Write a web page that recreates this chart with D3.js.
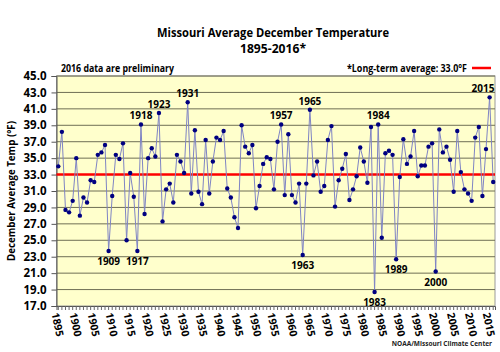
<!DOCTYPE html>
<html>
<head>
<meta charset="utf-8">
<script src="https://cdn.jsdelivr.net/npm/d3@7"></script>
<style>
  body { margin: 0; background: #fff; }
  svg text { font-family: "Open Sans", "DejaVu Sans", sans-serif; }
</style>
</head>
<body>
<svg id="chart" width="500" height="352"></svg>
<script>
const startYear = 1895;
const temps = [
  34.0, 38.2, 28.7, 28.4, 29.8, 35.0, 28.0, 30.2, 29.6, 32.3,
  32.1, 35.4, 35.7, 36.6, 23.7, 30.4, 35.4, 34.9, 36.8, 25.0,
  33.2, 30.3, 23.7, 39.1, 28.2, 35.0, 36.2, 35.2, 40.5, 27.3,
  31.2, 31.9, 29.6, 35.4, 34.6, 33.2, 41.8, 30.7, 38.4, 30.9,
  29.4, 37.2, 30.7, 34.6, 37.5, 37.2, 38.3, 31.3, 30.2, 27.8,
  26.5, 39.0, 36.4, 35.6, 36.6, 28.9, 31.6, 34.3, 35.1, 34.9,
  31.2, 37.0, 39.1, 30.5, 37.9, 30.5, 29.6, 31.9, 23.2, 31.9,
  40.9, 32.9, 34.6, 30.9, 31.6, 37.2, 38.9, 29.1, 32.3, 33.7,
  35.5, 29.9, 31.2, 32.8, 36.3, 34.6, 32.0, 38.8, 18.7, 39.1,
  25.3, 35.6, 35.9, 35.4, 22.7, 32.7, 37.3, 34.3, 35.2, 38.3,
  32.8, 34.1, 34.1, 36.4, 36.8, 21.2, 38.5, 35.7, 36.4, 34.8,
  30.9, 38.3, 33.3, 31.2, 30.7, 29.8, 37.5, 38.8, 30.4, 36.1,
  42.4, 32.1
];
const years = temps.map((_, i) => startYear + i);
const longTermAvg = 33.0;
const yTicks = [17, 19, 21, 23, 25, 27, 29, 31, 33, 35, 37, 39, 41, 43, 45];
const xLabelYears = d3.range(1895, 2016, 5);
const labeledHigh = [1918, 1923, 1931, 1957, 1965, 1984, 2015];
const labeledLow = [1909, 1917, 1963, 1983, 1989, 2000];

const svg = d3.select('#chart');
const plot = { left: 56.5, right: 495, top: 76, bottom: 306 };

const x = d3.scaleBand().domain(years).range([plot.left, plot.right]);
const cx = yr => x(yr) + x.bandwidth() / 2;
const y = d3.scaleLinear().domain([17, 45]).range([plot.bottom, plot.top]);

// Plot background
svg.append('rect')
  .attr('x', plot.left).attr('y', plot.top)
  .attr('width', plot.right - plot.left).attr('height', plot.bottom - plot.top)
  .attr('fill', '#FFFFCC')
  .attr('stroke', '#9a9a9a').attr('stroke-width', 1);

// Gridlines
svg.append('g')
  .selectAll('line')
  .data(yTicks.filter(t => t > 17))
  .join('line')
  .attr('x1', plot.left).attr('x2', plot.right)
  .attr('y1', d => y(d)).attr('y2', d => y(d))
  .attr('stroke', '#6f6f55').attr('stroke-width', 1);

// Y axis
const yAxis = svg.append('g')
  .attr('transform', `translate(${plot.left},0)`)
  .call(d3.axisLeft(y).tickValues(yTicks).tickFormat(d3.format('.1f')).tickSize(5).tickPadding(5));
yAxis.select('.domain').attr('stroke', '#555');
yAxis.selectAll('.tick line').attr('stroke', '#555');
yAxis.selectAll('text')
  .attr('font-size', 11.5).attr('font-weight', 'bold').attr('fill', '#000');

// X axis: minor ticks each year
const xAxis = svg.append('g')
  .attr('transform', `translate(0,${plot.bottom})`)
  .call(d3.axisBottom(x).tickSize(4).tickFormat(''));
xAxis.select('.domain').attr('stroke', '#555');
xAxis.selectAll('.tick line').attr('stroke', '#666');

svg.append('g')
  .selectAll('text')
  .data(xLabelYears)
  .join('text')
  .attr('transform', d => `translate(${cx(d) - 4},${plot.bottom + 7}) rotate(78)`)
  .attr('font-size', 10.5).attr('font-weight', 'bold')
  .attr('dominant-baseline', 'middle')
  .text(d => d);

// Long-term average line
svg.append('line')
  .attr('x1', plot.left).attr('x2', plot.right)
  .attr('y1', y(longTermAvg)).attr('y2', y(longTermAvg))
  .attr('stroke', '#FF0000').attr('stroke-width', 2.5);

// Data line
const line = d3.line().x((d, i) => cx(years[i])).y(d => y(d));
svg.append('path')
  .datum(temps)
  .attr('fill', 'none')
  .attr('stroke', '#7f84c4')
  .attr('stroke-width', 1)
  .attr('d', line);

svg.append('g')
  .selectAll('circle')
  .data(temps)
  .join('circle')
  .attr('cx', (d, i) => cx(years[i]))
  .attr('cy', d => y(d))
  .attr('r', 2.2)
  .attr('fill', '#000080');

// Point labels (kept inside the plot on the right)
const lbl = svg.append('g').attr('font-size', 10).attr('font-weight', 'bold').attr('text-anchor', 'middle');
const labelX = yr => Math.min(cx(yr), plot.right - 12);
labeledHigh.forEach(yr => {
  lbl.append('text')
    .attr('x', labelX(yr)).attr('y', y(temps[yr - startYear]) - 5)
    .text(yr);
});
labeledLow.forEach(yr => {
  lbl.append('text')
    .attr('x', labelX(yr)).attr('y', y(temps[yr - startYear]) + 14)
    .text(yr);
});

// Titles
svg.append('text')
  .attr('x', 273).attr('y', 37)
  .attr('text-anchor', 'middle').attr('font-size', 12.5).attr('font-weight', 'bold')
  .attr('textLength', 232).attr('lengthAdjust', 'spacingAndGlyphs')
  .text('Missouri Average December Temperature');
svg.append('text')
  .attr('x', 273).attr('y', 53)
  .attr('text-anchor', 'middle').attr('font-size', 12.5).attr('font-weight', 'bold')
  .attr('textLength', 66).attr('lengthAdjust', 'spacingAndGlyphs')
  .text('1895-2016*');

svg.append('text')
  .attr('x', 61).attr('y', 72)
  .attr('font-size', 10).attr('font-weight', 'bold')
  .attr('textLength', 113).attr('lengthAdjust', 'spacingAndGlyphs')
  .text('2016 data are preliminary');

svg.append('text')
  .attr('x', 467).attr('y', 72)
  .attr('text-anchor', 'end').attr('font-size', 10).attr('font-weight', 'bold')
  .attr('textLength', 120).attr('lengthAdjust', 'spacingAndGlyphs')
  .text('*Long-term average: 33.0°F');
svg.append('line')
  .attr('x1', 472).attr('x2', 491)
  .attr('y1', 68).attr('y2', 68)
  .attr('stroke', '#FF0000').attr('stroke-width', 2.5);

// Y axis title
svg.append('text')
  .attr('transform', `translate(15,${(plot.top + plot.bottom) / 2}) rotate(-90)`)
  .attr('text-anchor', 'middle').attr('font-size', 11).attr('font-weight', 'bold')
  .attr('textLength', 140).attr('lengthAdjust', 'spacingAndGlyphs')
  .text('December Average Temp (°F)');

// Source
svg.append('text')
  .attr('x', 492).attr('y', 346)
  .attr('text-anchor', 'end').attr('font-size', 6.5).attr('font-weight', 'bold')
  .attr('fill', '#222')
  .text('NOAA/Missouri Climate Center');
</script>
</body>
</html>
